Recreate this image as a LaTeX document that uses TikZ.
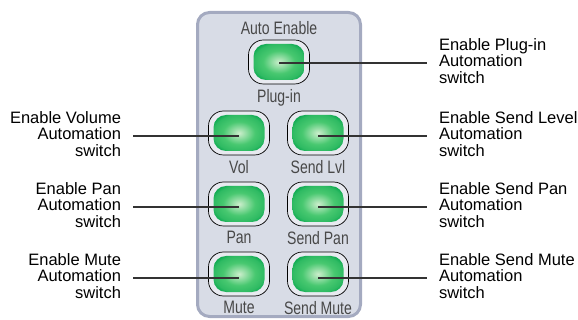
\documentclass[tikz,border=0pt]{standalone}
\usepackage{fontspec}
\setmainfont{Liberation Sans}
\newfontfamily\panelfont[FakeStretch=0.78]{Liberation Sans}
\usepackage{xcolor}
\usetikzlibrary{positioning, calc}
\definecolor{panelgray}{RGB}{216,220,230}
\definecolor{paneledge}{RGB}{164,170,192}
\definecolor{lampdark}{RGB}{8,166,78}
\definecolor{lampgreen}{RGB}{72,200,112}
\definecolor{lamphigh}{RGB}{204,238,204}
\definecolor{dgray}{RGB}{72,72,72}
\pgfdeclareradialshading{lamp}{\pgfpoint{0bp}{0bp}}{color(0bp)=(lamphigh);
  color(13bp)=(lampgreen); color(21bp)=(lampgreen!60!lampdark);
  color(25bp)=(lampdark); color(50bp)=(lampdark)}
\tikzstyle{Panel} = [
draw=paneledge,
line width=3pt,
fill=panelgray,
rounded corners=12pt,
minimum width=163pt,
minimum height=304pt]
\tikzstyle{Switch} = [
draw=black,
line width=0.7pt,
fill=panelgray!60!white,
rounded corners=15pt,
minimum width=61pt,
minimum height=44pt,
path picture={
\shade[shading=lamp, rounded corners=12.5pt]
([xshift=5pt, yshift=-4pt]path picture bounding box.north west) rectangle
([xshift=-5pt, yshift=4pt]path picture bounding box.south east);}]
\tikzstyle{Caption} = [
font=\panelfont\fontsize{18}{19}\selectfont,
text=dgray,
inner sep=0pt]
\tikzstyle{Note} = [
font=\fontsize{16.5}{16.5}\selectfont,
inner sep=0pt,
text depth=4.7pt,
outer xsep=12pt]
\tikzstyle{Leader} = [
line width=1.2pt,
draw=black!80]

\begin{document}
\begin{tikzpicture}[x=1pt, y=-1pt]
    \useasboundingbox (0,0) rectangle (578,320);
    \node [Panel] (0) at (279,164.5) {};

    \node [Switch] (1) at (279,62) {};
    \node [Switch] (2) at (239,133) {};
    \node [Switch] (3) at (318,133) {};
    \node [Switch] (4) at (239,204) {};
    \node [Switch] (5) at (318,204) {};
    \node [Switch] (6) at (239,274) {};
    \node [Switch] (7) at (318,274) {};

    \node [Caption, above =5pt of 1] (1a) {Auto Enable};
    \node [Caption, below =5pt of 1] (1b) {Plug-in};
    \node [Caption, below =5pt of 2] (2b) {Vol};
    \node [Caption, below =5pt of 3] (3b) {Send Lvl};
    \node [Caption, below =5pt of 4] (4b) {Pan};
    \node [Caption, below =5pt of 5] (5b) {Send Pan};
    \node [Caption, below =5pt of 6] (6b) {Mute};
    \node [Caption, below =5pt of 7] (7b) {Send Mute};

    \node [Note, anchor=west, align=left] (8) at (427,63) {Enable Plug-in\\Automation\\switch};
    \node [Note, anchor=east, align=right] (9) at (133,136) {Enable Volume\\Automation\\switch};
    \node [Note, anchor=west, align=left] (10) at (427,136) {Enable Send Level\\Automation\\switch};
    \node [Note, anchor=east, align=right] (11) at (133,207) {Enable Pan\\Automation\\switch};
    \node [Note, anchor=west, align=left] (12) at (427,207) {Enable Send Pan\\Automation\\switch};
    \node [Note, anchor=east, align=right] (13) at (133,278) {Enable Mute\\Automation\\switch};
    \node [Note, anchor=west, align=left] (14) at (427,278) {Enable Send Mute\\Automation\\switch};

    \draw[Leader] (8.west -| 1)--(8.west);
    \draw[Leader] (9.east)--(9.east -| 2);
    \draw[Leader] (10.west -| 3)--(10.west);
    \draw[Leader] (11.east)--(11.east -| 4);
    \draw[Leader] (12.west -| 5)--(12.west);
    \draw[Leader] (13.east)--(13.east -| 6);
    \draw[Leader] (14.west -| 7)--(14.west);
\end{tikzpicture}
\end{document}
